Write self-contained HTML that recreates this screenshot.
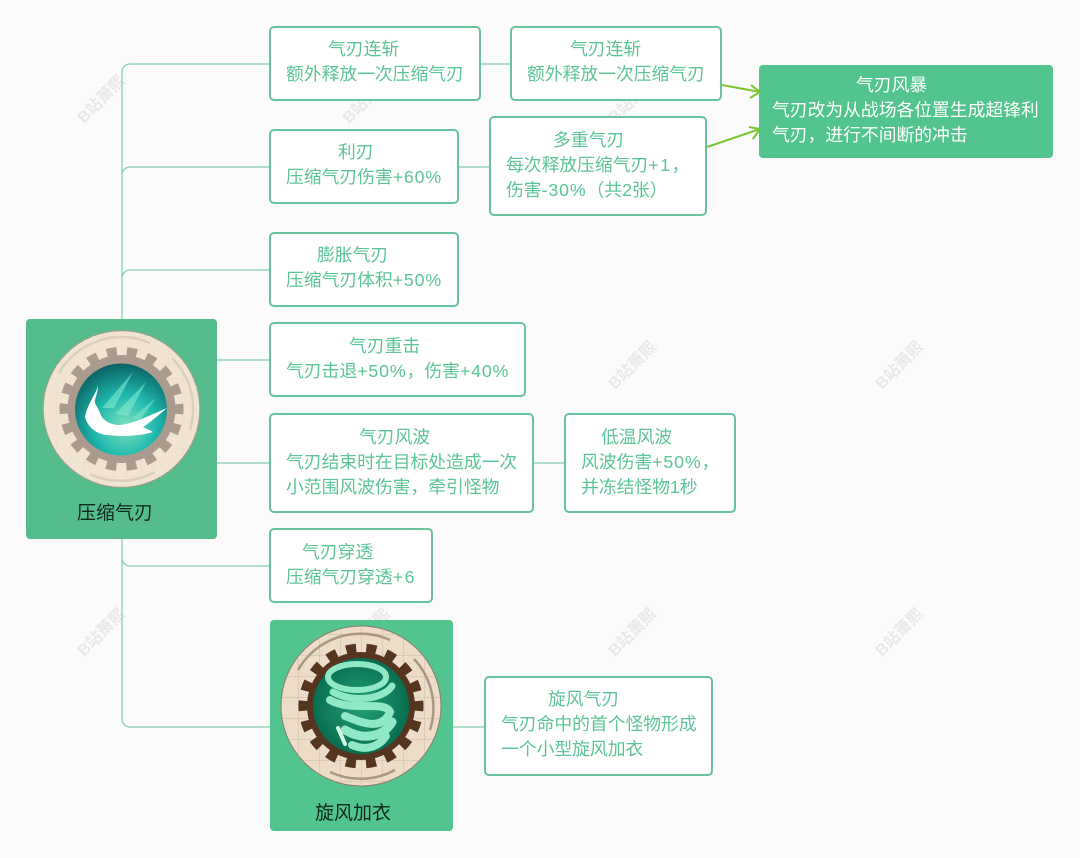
<!DOCTYPE html>
<html><head><meta charset="utf-8"><style>
html,body{margin:0;padding:0;background:#fbfbfb}
svg{display:block}
text{font-family:"Liberation Sans","Noto Sans CJK SC",sans-serif;font-size:17.8px;fill:#5cc496}
tspan{letter-spacing:.85px}
tspan.s{letter-spacing:1.5px}
text.wm{font-size:16px;font-weight:700;fill:#e8e8e8}
text.k{fill:#0f2a1c;font-size:19px}
text.w{fill:#fff}
.b{fill:#fff;stroke:#68c39c;stroke-width:2}
.c{fill:none;stroke:#82cdac;stroke-width:1.2}
.a{fill:none;stroke:#7cc72f;stroke-width:2}
</style></head><body>
<svg width="1080" height="858" viewBox="0 0 1080 858" xmlns="http://www.w3.org/2000/svg">
<defs>
<radialGradient id="g1" cx="55%" cy="68%" r="68%"><stop offset="0" stop-color="#7fe0bf"/><stop offset=".5" stop-color="#1fb8ad"/><stop offset="1" stop-color="#0a6264"/></radialGradient>
<radialGradient id="g2" cx="50%" cy="50%" r="55%"><stop offset="0" stop-color="#23a177"/><stop offset="1" stop-color="#056a4c"/></radialGradient>
<pattern id="p1" width="14" height="14" patternUnits="userSpaceOnUse"><path d="M0 0H14M0 0V14" stroke="#ebdccb" stroke-width="1" fill="none"/></pattern>
<pattern id="p2" width="21" height="21" patternUnits="userSpaceOnUse" x="4" y="4"><path d="M0 0H21M0 0V21" stroke="#cdbba6" stroke-width="1" fill="none"/></pattern>
</defs>
<rect width="1080" height="858" fill="#fbfbfb"/>
<text class="wm" transform="translate(84,124) rotate(-45)">B站萧熙</text>
<text class="wm" transform="translate(349,124) rotate(-45)">B站萧熙</text>
<text class="wm" transform="translate(615,124) rotate(-45)">B站萧熙</text>
<text class="wm" transform="translate(615,390) rotate(-45)">B站萧熙</text>
<text class="wm" transform="translate(882,390) rotate(-45)">B站萧熙</text>
<text class="wm" transform="translate(84,657) rotate(-45)">B站萧熙</text>
<text class="wm" transform="translate(349,657) rotate(-45)">B站萧熙</text>
<text class="wm" transform="translate(615,657) rotate(-45)">B站萧熙</text>
<text class="wm" transform="translate(882,657) rotate(-45)">B站萧熙</text>

<path class="c" d="M122 320V72a8 8 0 0 1 8-8H270M122 175a8 8 0 0 1 8-8H270M122 278a8 8 0 0 1 8-8H270M217 360H270M217 463H270M122 539V719a8 8 0 0 0 8 8H270M122 558a8 8 0 0 0 8 8H270M480 64H511M459 167H490M533 463H565M452 727H485"/>
<path class="a" d="M722 85L760 92M751 85L760 92L750 98M707 147L760 129M749 127L760 129L753 139"/>
<rect class="b" x="270" y="27" width="210" height="73" rx="4"/>
<rect class="b" x="511" y="27" width="210" height="73" rx="4"/>
<rect class="b" x="270" y="130" width="188" height="73" rx="4"/>
<rect class="b" x="490" y="117" width="216" height="98" rx="4"/>
<rect class="b" x="270" y="233" width="188" height="73" rx="4"/>
<rect class="b" x="270" y="323" width="255" height="73" rx="4"/>
<rect class="b" x="270" y="414" width="263" height="98" rx="4"/>
<rect class="b" x="565" y="414" width="170" height="98" rx="4"/>
<rect class="b" x="270" y="529" width="162" height="73" rx="4"/>
<rect class="b" x="485" y="677" width="227" height="98" rx="4"/>
<rect x="759" y="65" width="294" height="93" rx="4" fill="#52c48d"/>
<text x="328" y="55">气刃连斩</text><text x="286" y="80">额外释放一次压缩气刃</text>
<text x="570" y="55">气刃连斩</text><text x="527" y="80">额外释放一次压缩气刃</text>
<text x="338" y="158">利刃</text><text x="286" y="183">压缩气刃伤害<tspan>+60%</tspan></text>
<text x="553" y="146">多重气刃</text><text x="506" y="171">每次释放压缩气刃<tspan class="s">+1</tspan>，</text><text x="506" y="196">伤害<tspan>-30%</tspan>（共2张）</text>
<text x="317" y="261">膨胀气刃</text><text x="286" y="286">压缩气刃体积<tspan>+50%</tspan></text>
<text x="349" y="352">气刃重击</text><text x="286" y="377">气刃击退<tspan>+50%</tspan>，伤害<tspan>+40%</tspan></text>
<text x="359" y="443">气刃风波</text><text x="286" y="468">气刃结束时在目标处造成一次</text><text x="286" y="493">小范围风波伤害，牵引怪物</text>
<text x="601" y="443">低温风波</text><text x="581" y="468">风波伤害<tspan>+50%</tspan>，</text><text x="581" y="493">并冻结怪物1秒</text>
<text x="302" y="558">气刃穿透</text><text x="286" y="583">压缩气刃穿透<tspan class="s">+6</tspan></text>
<text x="548" y="705">旋风气刃</text><text x="501" y="730">气刃命中的首个怪物形成</text><text x="501" y="755">一个小型旋风加衣</text>
<text class="w" x="856" y="91">气刃风暴</text><text class="w" x="772" y="116">气刃改为从战场各位置生成超锋利</text><text class="w" x="772" y="141">气刃，进行不间断的冲击</text>

<rect x="26" y="319" width="191" height="220" rx="4" fill="#55bd8c"/>
<circle cx="121.500" cy="409" r="78.300" fill="#f1e4d3" stroke="#a89a88"/>
<circle cx="121.500" cy="409" r="78.300" fill="url(#p1)"/>
<g fill="none" stroke="#dccfbd" stroke-width="2.500">
<path d="M59 373A72 72 0 0 1 150 343"/>
<path d="M172 358A72 72 0 0 1 190 430"/>
<path d="M90 474A72 72 0 0 0 155 472"/>
</g>
<circle cx="121.500" cy="409" r="54" fill="#ab9b8f"/>
<circle cx="121.500" cy="409" r="57" fill="none" stroke="#ab9b8f" stroke-width="10" stroke-dasharray="10 9.900" transform="rotate(-5 121.500 409)"/>
<circle cx="121" cy="409.500" r="46" fill="url(#g1)"/>
<path d="M102 408L133 372L114 408ZM115 414L146 382L128 416ZM132 418L156 398L140 420Z" fill="#7fe8cf" opacity=".6"/>
<path d="M98 385C97 393 88 402 85 417C88 428 97 434 107 435C122 437 140 436 153 432L143 427C152 421 160 414 167 408C152 414 137 423 120 425C110 425 102 420 100 413C98 407 94 404 95 400C96 396 98 391 98 385Z" fill="#fff"/>
<text class="k" x="77" y="519">压缩气刃</text>

<rect x="270" y="620" width="183" height="211" rx="4" fill="#52c48d"/>
<circle cx="361" cy="706" r="80" fill="#ecdcc8" stroke="#8d7b68"/>
<circle cx="361" cy="706" r="80" fill="url(#p2)"/>
<g fill="none" stroke="#a99887" stroke-width="2.500">
<path d="M298 670A72 72 0 0 1 390 640"/>
<path d="M414 659A72 72 0 0 1 430 730"/>
<path d="M330 772A72 72 0 0 0 395 770"/>
</g>
<circle cx="361" cy="706" r="54" fill="#56351f"/>
<circle cx="361" cy="706" r="57.500" fill="none" stroke="#56351f" stroke-width="10" stroke-dasharray="10 10.070" transform="rotate(-5 361 706)"/>
<circle cx="361" cy="706" r="48" fill="url(#g2)"/>
<g fill="none" stroke="#8fe8c6" stroke-linecap="round">
<ellipse cx="357" cy="677" rx="29" ry="13" stroke-width="6"/>
<path d="M333 692C355 704 385 698 392 686" stroke-width="7"/>
<path d="M330 700C350 712 385 700 390 712C382 732 360 722 345 716" stroke-width="8"/>
<path d="M345 730C365 742 385 735 392 722" stroke-width="9"/>
<path d="M352 745C368 752 380 745 386 736" stroke-width="8"/>
<path d="M338 728L345 744" stroke="#d5f5e8" stroke-width="4"/>
</g>
<text class="k" x="315" y="819">旋风加衣</text>
</svg>
</body></html>
